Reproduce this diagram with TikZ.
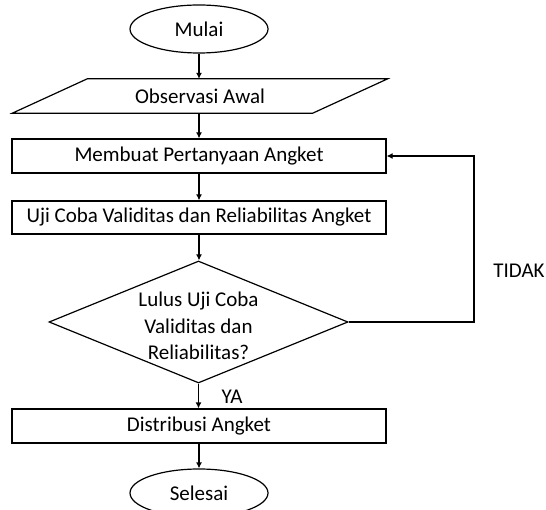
\documentclass[tikz,border=0pt]{standalone}
\usepackage{fontspec}
\setmainfont{Carlito}
\usetikzlibrary{shapes.geometric,arrows.meta}
\begin{document}
\begin{tikzpicture}[x=1pt,y=-1pt,
  every node/.style={font=\fontsize{21}{26.5}\selectfont, inner sep=0pt},
  lw/.style={line width=1.2pt},
  boxstyle/.style={draw, lw, rectangle, minimum width=374pt, minimum height=34pt},
  ovalstyle/.style={draw, lw, ellipse, minimum width=138pt, minimum height=48pt},
  arr/.style={lw, -{Latex[length=6pt,width=6pt]}},
]
\useasboundingbox (0,0) rectangle (546,510);
\node[ovalstyle] (mulai) at (199,29) {Mulai};
\node[rectangle, minimum width=300pt, minimum height=34pt] (obs) at (200,96) {Observasi Awal};
\draw[lw] ([xshift=37.5pt]obs.north west) -- ([xshift=37.5pt]obs.north east)
  -- ([xshift=-37.5pt]obs.south east) -- ([xshift=-37.5pt]obs.south west) -- cycle;
\node[boxstyle] (b1) at (199,156) {Membuat Pertanyaan Angket};
\node[boxstyle, minimum height=33pt] (b2) at (199,217.5) {Uji Coba Validitas dan Reliabilitas Angket};
\node[draw, lw, diamond, aspect=2.45, minimum width=299pt, minimum height=122pt] (dia) at (198.5,322) {};
\node[align=center] (diatext) at (198.5,326) {Lulus Uji Coba\\Validitas dan\\Reliabilitas?};
\node[boxstyle] (b3) at (199,426) {Distribusi Angket};
\node[ovalstyle] (selesai) at (199,493) {Selesai};
\node (ya) at (232,397) {YA};
\node (tidak) at (519,271) {TIDAK};
\coordinate (fb) at (474,322);
\draw[arr] (mulai.south) -- (mulai.south |- obs.north);
\draw[arr] (obs.south -| b1.north) -- (b1.north);
\draw[arr] (b1.south) -- (b2.north);
\draw[arr] (b2.south) -- (b2.south |- dia.north);
\draw[arr] (dia.south) -- (dia.south |- b3.north);
\draw[arr] (b3.south) -- (selesai.north);
\draw[arr] (dia.east) -- (fb) |- (b1.east);
\end{tikzpicture}
\end{document}
